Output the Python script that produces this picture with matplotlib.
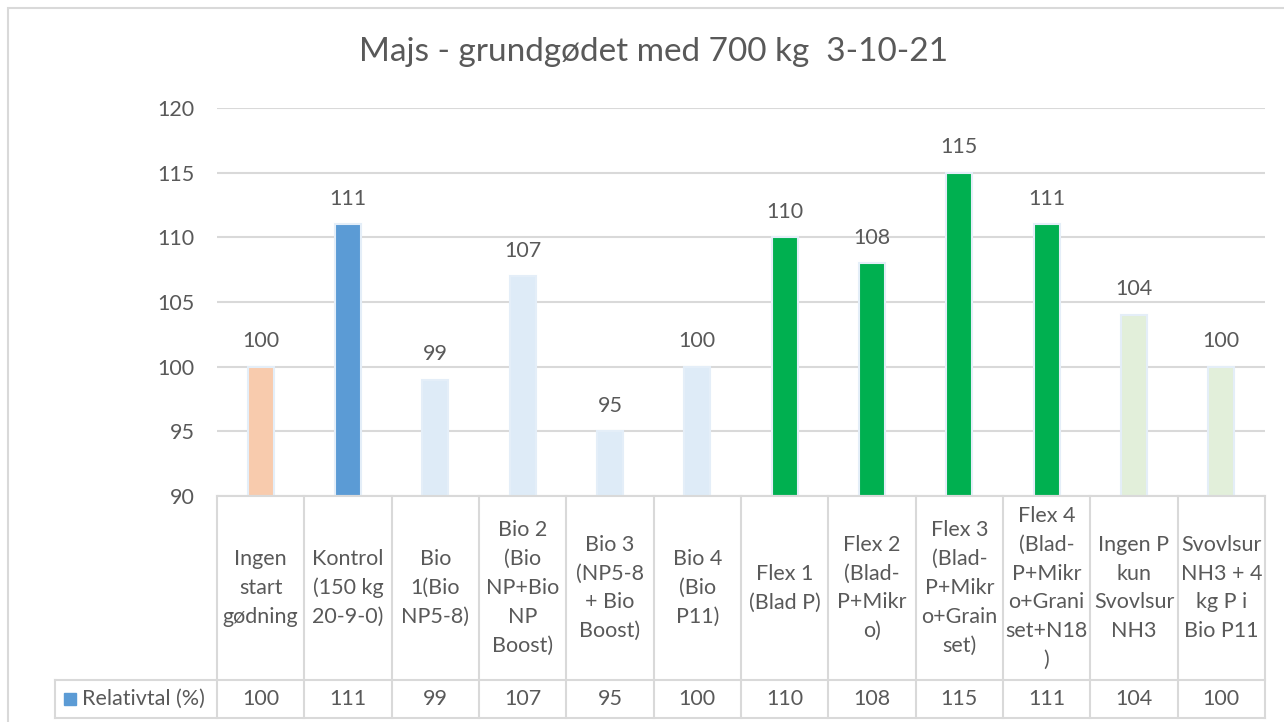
import matplotlib.pyplot as plt
from matplotlib.patches import Rectangle

plt.rcParams['font.family'] = ['Lato', 'DejaVu Sans']

# data
categories = [
    "Ingen\nstart\ngødning",
    "Kontrol\n(150 kg\n20-9-0)",
    "Bio\n1(Bio\nNP5-8)",
    "Bio 2\n(Bio\nNP+Bio\nNP\nBoost)",
    "Bio 3\n(NP5-8\n+ Bio\nBoost)",
    "Bio 4\n(Bio\nP11)",
    "Flex 1\n(Blad P)",
    "Flex 2\n(Blad-\nP+Mikr\no)",
    "Flex 3\n(Blad-\nP+Mikr\no+Grain\nset)",
    "Flex 4\n(Blad-\nP+Mikr\no+Grani\nset+N18\n)",
    "Ingen P\nkun\nSvovlsur\nNH3",
    "Svovlsur\nNH3 + 4\nkg P i\nBio P11",
]
values = [100, 111, 99, 107, 95, 100, 110, 108, 115, 111, 104, 100]
series_name = "Relativtal (%)"
title = "Majs - grundgødet med 700 kg  3-10-21"

bar_colors = ["#F8CBAD", "#5B9BD5", "#DEEBF7", "#DEEBF7", "#DEEBF7", "#DEEBF7",
              "#00B050", "#00B050", "#00B050", "#00B050", "#E2EFDA", "#E2EFDA"]

txt = "#595959"
grid = "#D9D9D9"
fs = 15.5

W, H = 1284, 722
fig = plt.figure(figsize=(W / 100, H / 100), dpi=100)

# outer chart border
fig.patches.append(Rectangle((8 / W, -0.1), 1.2, (H - 8) / H + 0.1, transform=fig.transFigure,
                             fill=False, edgecolor=grid, linewidth=1.5))

x0, x1 = 217, 1265
y_top, y_axis, y_row, y_bot = 108, 496, 680, 718

ax = fig.add_axes([x0 / W, 1 - y_axis / H, (x1 - x0) / W, (y_axis - y_top) / H])
n = len(values)
xs = list(range(n))
ax.bar(xs, [v - 90 for v in values], bottom=90, width=0.3, color=bar_colors,
       edgecolor="#E4EEF8", linewidth=1.5, zorder=3)
for x, v in zip(xs, values):
    ax.text(x, v + 1.2, str(v), ha="center", va="bottom", fontsize=fs, color=txt)

ax.set_xlim(-0.5, n - 0.5)
ax.set_ylim(90, 120)
ax.set_yticks(range(90, 121, 5))
ax.yaxis.grid(True, color=grid, linewidth=1.5)
ax.set_axisbelow(True)
ax.tick_params(axis="y", length=0, pad=16, labelsize=fs, labelcolor=txt)
ax.set_xticks([])
for s in ax.spines.values():
    s.set_visible(False)

fig.text(0.5 + 12 / W, 1 - 52 / H, title, ha="center", va="center", fontsize=24, color=txt)

# data table
tb = fig.add_axes([x0 / W, 1 - y_bot / H, (x1 - x0) / W, (y_bot - y_axis) / H])
tb.set_xlim(-0.5, n - 0.5)
tb.set_ylim(y_bot, y_axis)
tb.axis("off")
left_leg = -0.5 - (x0 - 55) / ((x1 - x0) / n)
lk = dict(color=grid, linewidth=1.5, clip_on=False)
tb.plot([-0.5, n - 0.5], [y_axis, y_axis], **lk)
tb.plot([left_leg, n - 0.5], [y_row, y_row], **lk)
tb.plot([left_leg, n - 0.5], [y_bot, y_bot], **lk)
tb.plot([left_leg, left_leg], [y_row, y_bot], **lk)
for i in range(n + 1):
    tb.plot([i - 0.5, i - 0.5], [y_axis, y_bot], **lk)
for i, (c, v) in enumerate(zip(categories, values)):
    tb.text(i, (y_axis + y_row) / 2, c, ha="center", va="center", fontsize=fs,
            color=txt, linespacing=1.55)
    tb.text(i, (y_row + y_bot) / 2, str(v), ha="center", va="center", fontsize=fs, color=txt)
tb.plot([left_leg + 0.17], [(y_row + y_bot) / 2], marker="s", markersize=8,
        color="#5B9BD5", clip_on=False)
tb.text(left_leg + 0.31, (y_row + y_bot) / 2, series_name, ha="left", va="center",
        fontsize=fs, color=txt)

fig.savefig("out.png", dpi=100)
